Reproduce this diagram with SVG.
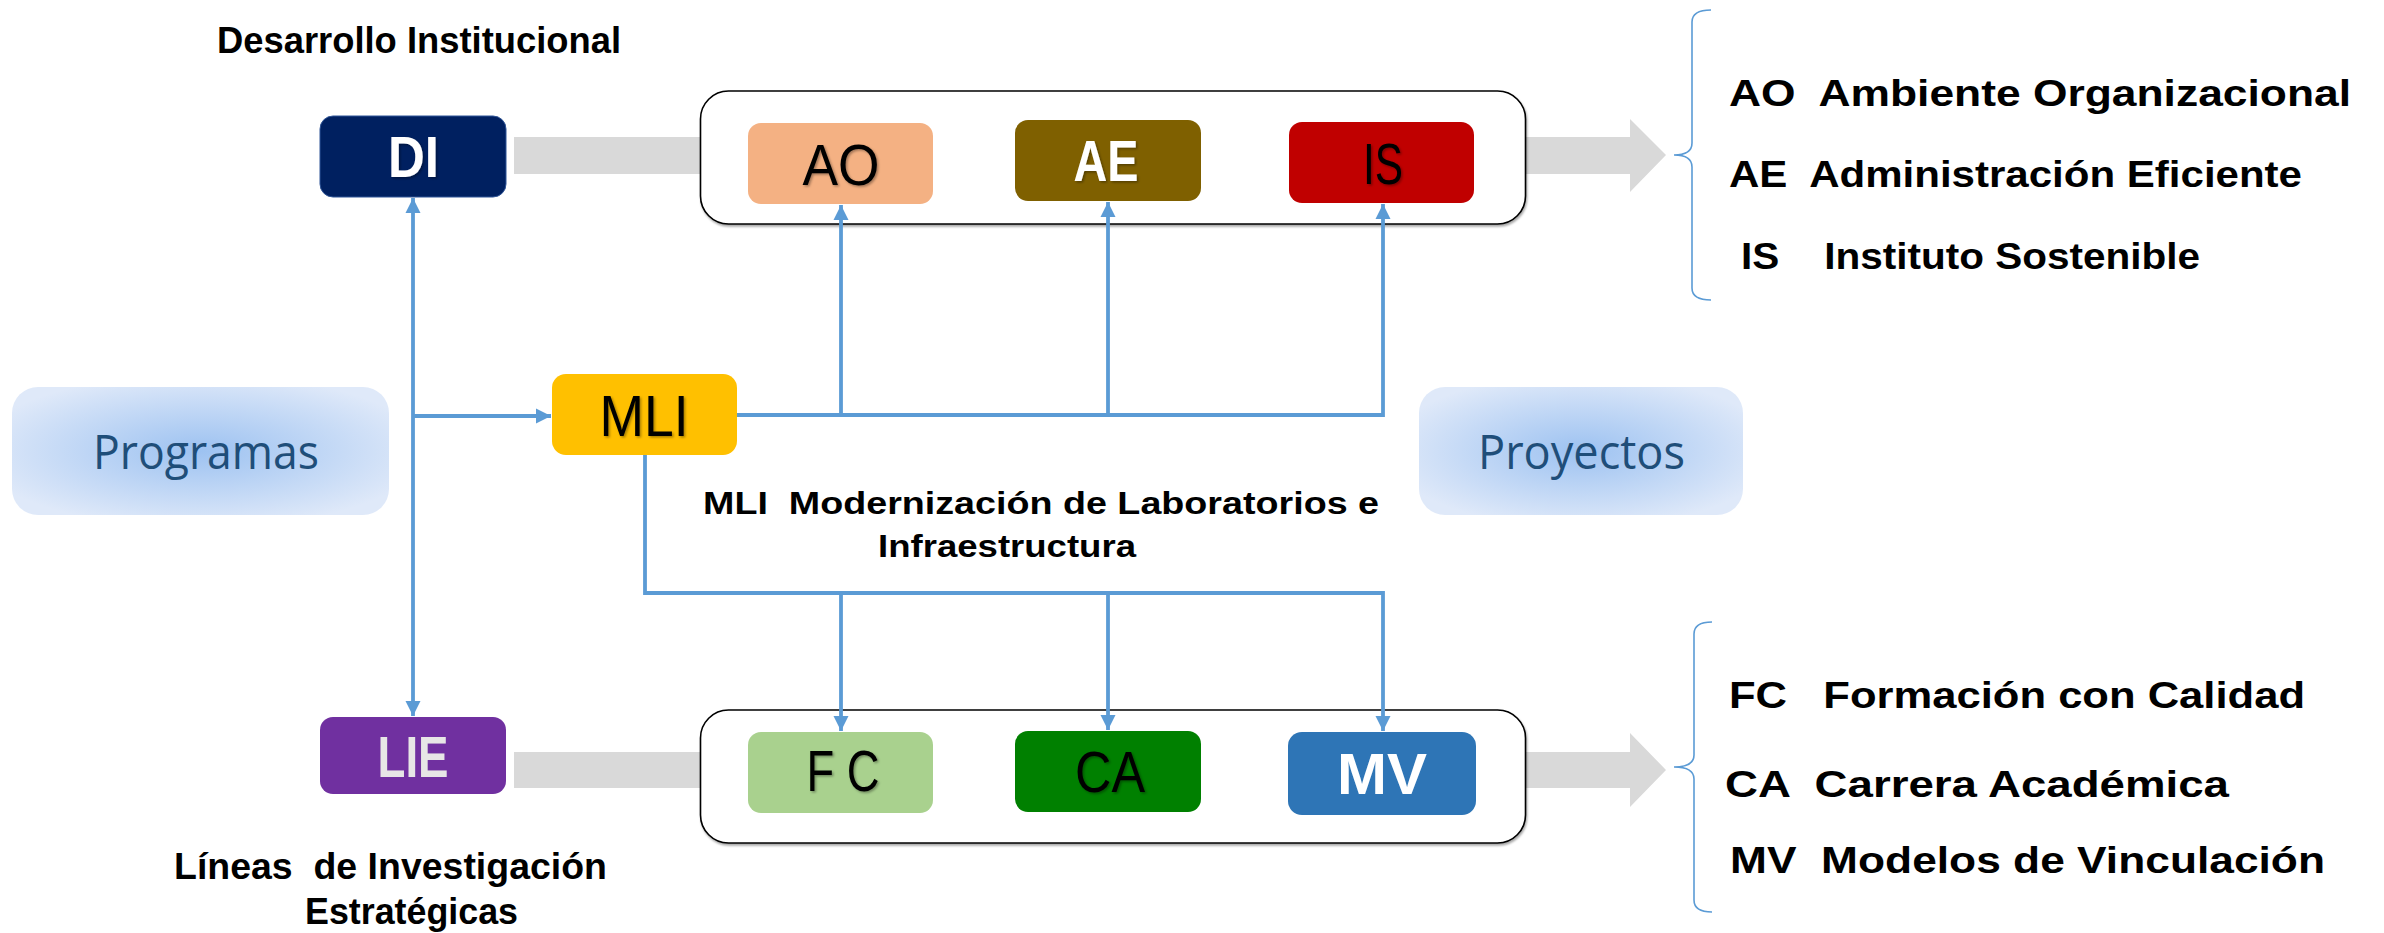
<svg xmlns="http://www.w3.org/2000/svg" width="2384" height="933" viewBox="0 0 2384 933">
<defs>
<style>
text{white-space:pre}
.cap{font-family:"Liberation Sans",Arial,sans-serif;font-weight:bold;fill:#000}
.lbl{font-family:"Liberation Sans",Arial,sans-serif;font-size:58px}
.soft{font-family:"Open Sans","Liberation Sans",sans-serif;font-size:47px;fill:#1F4E79}
.conn{stroke:#5B9BD5;stroke-width:3.8;fill:none}
.brace{stroke:#5B9BD5;stroke-width:1.6;fill:none}
.bar{fill:#D9D9D9}
.cont{fill:#fff;stroke:#000;stroke-width:1.6}
</style>
<radialGradient id="soft" cx="50%" cy="50%" r="60%">
<stop offset="0" stop-color="#9DC2F1"/>
<stop offset="1" stop-color="#DFE9F9"/>
</radialGradient>
<marker id="ah" viewBox="0 0 10 10" refX="10" refY="5" markerWidth="4" markerHeight="4" markerUnits="strokeWidth" orient="auto-start-reverse">
<path d="M0,0 L10,5 L0,10 Z" fill="#5B9BD5"/>
</marker>
<filter id="ts" x="-20%" y="-20%" width="140%" height="140%">
<feDropShadow dx="1.5" dy="1.5" stdDeviation="1" flood-color="#000" flood-opacity="0.35"/>
</filter>
<filter id="cs" x="-5%" y="-5%" width="110%" height="115%">
<feDropShadow dx="1" dy="2" stdDeviation="1" flood-color="#000" flood-opacity="0.35"/>
</filter>
</defs>
<rect width="2384" height="933" fill="#fff"/>

<!-- gray flow arrows -->
<g id="flow">
<path class="bar" d="M514,137 L1630,137 L1630,119 L1666,155 L1630,192 L1630,174 L514,174 Z"/>
<path class="bar" d="M514,752 L1630,752 L1630,733 L1666,770 L1630,807 L1630,788 L514,788 Z"/>
</g>

<!-- containers -->
<g id="container-top"><rect class="cont" filter="url(#cs)" x="700.5" y="91" width="825" height="133" rx="28"/></g>
<g id="container-bottom"><rect class="cont" filter="url(#cs)" x="700.5" y="710" width="825" height="133" rx="28"/></g>

<!-- side labels -->
<g id="programas">
<rect x="12" y="387" width="377" height="128" rx="26" fill="url(#soft)"/>
<text class="soft" x="93" y="469" textLength="226" lengthAdjust="spacingAndGlyphs">Programas</text>
</g>
<g id="proyectos">
<rect x="1419" y="387" width="324" height="128" rx="26" fill="url(#soft)"/>
<text class="soft" x="1478" y="469" textLength="207" lengthAdjust="spacingAndGlyphs">Proyectos</text>
</g>

<!-- connectors -->
<g id="connectors">
<line class="conn" x1="413" y1="198" x2="413" y2="716" marker-start="url(#ah)" marker-end="url(#ah)"/>
<line class="conn" x1="413" y1="416" x2="551" y2="416" marker-end="url(#ah)"/>
<polyline class="conn" points="737,415 1383,415"/>
<line class="conn" x1="841" y1="415" x2="841" y2="205" marker-end="url(#ah)"/>
<line class="conn" x1="1108" y1="415" x2="1108" y2="202" marker-end="url(#ah)"/>
<line class="conn" x1="1383" y1="417" x2="1383" y2="204" marker-end="url(#ah)"/>
<polyline class="conn" points="645,455 645,593 1383,593"/>
<line class="conn" x1="841" y1="593" x2="841" y2="731" marker-end="url(#ah)"/>
<line class="conn" x1="1108" y1="593" x2="1108" y2="730" marker-end="url(#ah)"/>
<line class="conn" x1="1383" y1="591" x2="1383" y2="731" marker-end="url(#ah)"/>
</g>

<!-- nodes -->
<g id="DI">
<rect x="320" y="116" width="186" height="81" rx="13" fill="#002060" stroke="#2F5597" stroke-width="1"/>
<text class="lbl" x="413.5" y="177" text-anchor="middle" font-weight="bold" fill="#fff" filter="url(#ts)" textLength="51" lengthAdjust="spacingAndGlyphs">DI</text>
</g>
<g id="AO">
<rect x="748" y="123" width="185" height="81" rx="13" fill="#F4B183"/>
<text class="lbl" x="841" y="185" text-anchor="middle" fill="#000" filter="url(#ts)" textLength="77" lengthAdjust="spacingAndGlyphs">AO</text>
</g>
<g id="AE">
<rect x="1015" y="120" width="186" height="81" rx="13" fill="#7F6000"/>
<text class="lbl" x="1106" y="181" text-anchor="middle" font-weight="bold" fill="#fff" filter="url(#ts)" textLength="65" lengthAdjust="spacingAndGlyphs">AE</text>
</g>
<g id="IS">
<rect x="1289" y="122" width="185" height="81" rx="13" fill="#C00000"/>
<text class="lbl" x="1383" y="184" text-anchor="middle" fill="#000" filter="url(#ts)" textLength="40" lengthAdjust="spacingAndGlyphs">IS</text>
</g>
<g id="MLI">
<rect x="552" y="374" width="185" height="81" rx="14" fill="#FFC000"/>
<text class="lbl" x="644" y="436" text-anchor="middle" fill="#000" filter="url(#ts)" textLength="89" lengthAdjust="spacingAndGlyphs">MLI</text>
</g>
<g id="LIE">
<rect x="320" y="717" width="186" height="77" rx="13" fill="#7030A0"/>
<text class="lbl" x="413" y="777" text-anchor="middle" font-weight="bold" fill="#E7E6E6" textLength="71" lengthAdjust="spacingAndGlyphs">LIE</text>
</g>
<g id="FC">
<rect x="748" y="732" width="185" height="81" rx="13" fill="#A9D18E"/>
<text class="lbl" x="843" y="791" text-anchor="middle" fill="#000" filter="url(#ts)" font-size="62" textLength="73" lengthAdjust="spacingAndGlyphs">F C</text>
</g>
<g id="CA">
<rect x="1015" y="731" width="186" height="81" rx="13" fill="#008000"/>
<text class="lbl" x="1110" y="792" text-anchor="middle" fill="#000" filter="url(#ts)" textLength="70" lengthAdjust="spacingAndGlyphs">CA</text>
</g>
<g id="MV">
<rect x="1288" y="732" width="188" height="83" rx="14" fill="#2E75B6"/>
<text class="lbl" x="1382" y="794" text-anchor="middle" font-weight="bold" fill="#fff" textLength="90" lengthAdjust="spacingAndGlyphs">MV</text>
</g>

<!-- captions -->
<g id="captions">
<text class="cap" x="217" y="53" font-size="37" textLength="404" lengthAdjust="spacingAndGlyphs">Desarrollo Institucional</text>
<text class="cap" x="703" y="514" font-size="32" textLength="676" lengthAdjust="spacingAndGlyphs">MLI  Modernización de Laboratorios e</text>
<text class="cap" x="878" y="557" font-size="32" textLength="258" lengthAdjust="spacingAndGlyphs">Infraestructura</text>
<text class="cap" x="174" y="879" font-size="36" textLength="433" lengthAdjust="spacingAndGlyphs">Líneas  de Investigación</text>
<text class="cap" x="305" y="924" font-size="36" textLength="213" lengthAdjust="spacingAndGlyphs">Estratégicas</text>
</g>

<!-- legends -->
<g id="legend-top">
<path class="brace" d="M1711,10 Q1692,10 1692,22 L1692,143 Q1692,155 1674,155 Q1692,155 1692,167 L1692,288 Q1692,300 1711,300"/>
<text class="cap" x="1729" y="106" font-size="36" textLength="622" lengthAdjust="spacingAndGlyphs">AO  Ambiente Organizacional</text>
<text class="cap" x="1729" y="187" font-size="36" textLength="573" lengthAdjust="spacingAndGlyphs">AE  Administración Eficiente</text>
<text class="cap" x="1741" y="269" font-size="36" textLength="459" lengthAdjust="spacingAndGlyphs">IS    Instituto Sostenible</text>
</g>
<g id="legend-bottom">
<path class="brace" d="M1712,622 Q1694,622 1694,634 L1694,755 Q1694,767 1674,767 Q1694,767 1694,779 L1694,900 Q1694,912 1712,912"/>
<text class="cap" x="1729" y="708" font-size="36" textLength="576" lengthAdjust="spacingAndGlyphs">FC   Formación con Calidad</text>
<text class="cap" x="1725" y="797" font-size="36" textLength="504" lengthAdjust="spacingAndGlyphs">CA  Carrera Académica</text>
<text class="cap" x="1730" y="873" font-size="36" textLength="595" lengthAdjust="spacingAndGlyphs">MV  Modelos de Vinculación</text>
</g>
</svg>
